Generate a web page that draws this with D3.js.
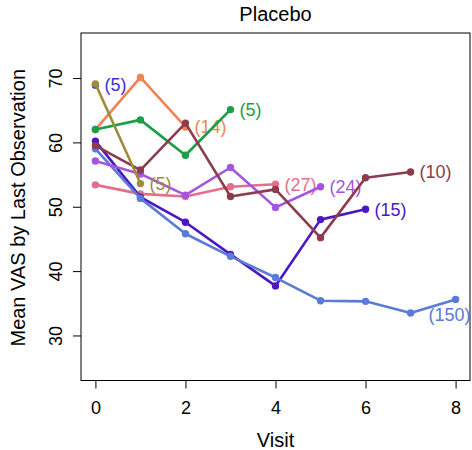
<!DOCTYPE html>
<html>
<head>
<meta charset="utf-8">
<script src="https://cdn.jsdelivr.net/npm/d3@7"></script>
<style>
body { margin: 0; background: #fff; }
text { font-family: "Liberation Sans", Arial, Helvetica, sans-serif; }
</style>
</head>
<body>
<svg id="chart" width="472" height="450"></svg>
<script>
// Data: mean VAS per visit, grouped by last observed visit (count in label)
const xTicks = [0, 2, 4, 6, 8];
const yTicks = [30, 40, 50, 60, 70];

const groupLabels = ["(27)", "(15)", "(150)", "(24)", "(14)", "(5)", "(10)", "(5)", "(5)"];
const groupColors = ["#e46e8c", "#4b17c5", "#5b7bd8", "#a455e0", "#ef8355", "#1a9e47", "#8c3c4c", "#3f2ed8", "#a08a3c"];

const pinkVals     = [53.4, 52.0, 51.6, 53.1, 53.5];
const violetVals   = [60.2, 51.5, 47.6, 42.6, 37.7, 48.0, 49.6];
const blueVals     = [59.0, 51.3, 45.8, 42.3, 39.0, 35.4, 35.3, 33.5, 35.6];
const purpleVals   = [57.1, 55.1, 51.8, 56.1, 49.9, 53.1];
const orangeVals   = [62.0, 70.1, 62.4];
const greenVals    = [62.0, 63.5, 58.0, 65.1];
const maroonVals   = [59.5, 55.7, 63.0, 51.6, 52.7, 45.2, 54.5, 55.4];
const singleVals   = [68.9];
const oliveVals    = [69.1, 53.6];

const seriesVals = [pinkVals, violetVals, blueVals, purpleVals, orangeVals, greenVals, maroonVals, singleVals, oliveVals];

const svg = d3.select("#chart");
const L = 81, R = 470, T = 33, B = 380.5;

const x = d3.scaleLinear().domain([-0.32, 8.32]).range([L, R]);
const y = d3.scaleLinear().domain([23, 77]).range([B, T]);

// Title
svg.append("text").attr("x", (L + R) / 2).attr("y", 21)
  .attr("text-anchor", "middle").attr("font-size", 20).attr("fill", "#000").text("Placebo");

// Axis titles
svg.append("text").attr("x", (L + R) / 2).attr("y", 447)
  .attr("text-anchor", "middle").attr("font-size", 20).attr("fill", "#000").text("Visit");
svg.append("text").attr("transform", `translate(25,${(y(25) + y(75)) / 2 + 1}) rotate(-90)`)
  .attr("text-anchor", "middle").attr("font-size", 20).attr("fill", "#000").text("Mean VAS by Last Observation");

// X axis
const gx = svg.append("g").attr("transform", `translate(0,${B})`)
  .call(d3.axisBottom(x).tickValues(xTicks).tickSize(8).tickFormat(d3.format("d")));
gx.select(".domain").remove();
gx.selectAll(".tick line").attr("stroke", "#000");
gx.selectAll(".tick text").attr("font-size", 18).attr("font-family", "Liberation Sans, Arial, sans-serif")
  .attr("fill", "#000").attr("y", 33).attr("dy", 0);

// Y axis
const gy = svg.append("g").attr("transform", `translate(${L},0)`)
  .call(d3.axisLeft(y).tickValues(yTicks).tickSize(8).tickFormat(d3.format("d")));
gy.select(".domain").remove();
gy.selectAll(".tick line").attr("stroke", "#000");
gy.selectAll(".tick text").attr("font-size", 18).attr("font-family", "Liberation Sans, Arial, sans-serif")
  .attr("fill", "#000")
  .attr("x", null).attr("dy", null)
  .attr("text-anchor", "middle")
  .attr("transform", "translate(-19,0) rotate(-90)");

// Box
svg.append("rect").attr("x", L).attr("y", T).attr("width", R - L).attr("height", B - T)
  .attr("fill", "none").attr("stroke", "#000").attr("stroke-width", 1);

// Lines
const line = d3.line().x((d, i) => x(i)).y(d => y(d));
seriesVals.forEach((vals, k) => {
  const g = svg.append("g");
  const col = groupColors[k];
  g.append("path").datum(vals).attr("d", line)
    .attr("fill", "none").attr("stroke", col).attr("stroke-width", 2.6).attr("stroke-linejoin", "round");
  g.selectAll("circle").data(vals).join("circle")
    .attr("cx", (d, i) => x(i)).attr("cy", d => y(d)).attr("r", 3.7).attr("fill", col);
  const last = vals.length - 1;
  const lbl = g.append("text").attr("font-size", 18).attr("fill", col).text(groupLabels[k]);
  if (groupLabels[k] === "(150)") {
    lbl.attr("x", x(last) - 6).attr("y", y(vals[last]) + 15).attr("dy", "0.35em").attr("text-anchor", "middle");
  } else {
    lbl.attr("x", x(last) + 9).attr("y", y(vals[last])).attr("dy", "0.35em").attr("text-anchor", "start");
  }
});
</script>
</body>
</html>
